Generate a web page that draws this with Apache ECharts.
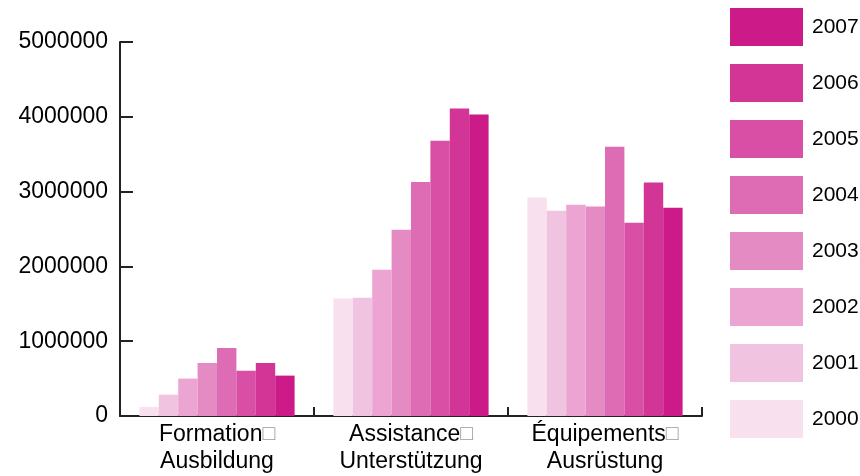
<!DOCTYPE html>
<html>
<head>
<meta charset="utf-8">
<script src="https://cdn.jsdelivr.net/npm/echarts@6/dist/echarts.min.js"></script>
<style>
  html, body { margin: 0; padding: 0; background: #fff; }
  #main { width: 860px; height: 476px; }
</style>
</head>
<body>
<div id="main"></div>
<script>
const categories = ['Formation□\nAusbildung', 'Assistance□\nUnterstützung', 'Équipements□\nAusrüstung'];
const years = ['2000', '2001', '2002', '2003', '2004', '2005', '2006', '2007'];
const colors = ['#f8e0ee', '#f0c3e0', '#eca5d2', '#e48bc3', '#de6cb4', '#d84fa5', '#d23595', '#cc1a89'];
// one array per year: [Formation, Assistance, Équipements]
const v2000 = [120000, 1570000, 2920000];
const v2001 = [285000, 1580000, 2745000];
const v2002 = [500000, 1955000, 2825000];
const v2003 = [710000, 2490000, 2800000];
const v2004 = [910000, 3130000, 3600000];
const v2005 = [605000, 3680000, 2585000];
const v2006 = [710000, 4110000, 3120000];
const v2007 = [540000, 4030000, 2785000];
const values = [v2000, v2001, v2002, v2003, v2004, v2005, v2006, v2007];
const yTicks = [0, 1000000, 2000000, 3000000, 4000000, 5000000];

const chart = echarts.init(document.getElementById('main'));

const series = years.map((y, i) => ({
  name: y,
  type: 'bar',
  data: values[i],
  barGap: '0%',
  barCategoryGap: '20%',
  itemStyle: { color: colors[i] },
  emphasis: { disabled: true },
}));

chart.setOption({
  animation: false,
  textStyle: { fontFamily: 'Liberation Sans, Arial, sans-serif' },
  grid: { left: 120, right: 158, top: 42, bottom: 60, outerBoundsMode: 'none' },
  legend: {
    orient: 'vertical',
    left: 730,
    top: 8,
    padding: 0,
    itemWidth: 73,
    itemHeight: 38,
    itemGap: 18,
    icon: 'rect',
    data: years.slice().reverse(),
    textStyle: { fontSize: 21, color: '#000', padding: [2, 0, 0, 4] },
  },
  xAxis: {
    type: 'category',
    data: categories,
    axisLine: { lineStyle: { color: '#222', width: 2 } },
    axisTick: { show: true, interval: 0, inside: true, length: 9, lineStyle: { color: '#222', width: 2 } },
    axisLabel: {
      interval: 0,
      color: '#000',
      fontSize: 23,
      lineHeight: 27,
      margin: 5,
      formatter: (s) => s.replace('□', '{box|□}'),
      rich: { box: { color: '#999', fontSize: 21, lineHeight: 27 } },
    },
  },
  yAxis: {
    type: 'value',
    min: yTicks[0],
    max: yTicks[yTicks.length - 1],
    interval: yTicks[1] - yTicks[0],
    splitLine: { show: false },
    axisLine: { show: true, lineStyle: { color: '#222', width: 2 } },
    axisTick: { show: true, inside: true, length: 13, lineStyle: { color: '#222', width: 2 } },
    axisLabel: { color: '#000', fontSize: 23, margin: 12, formatter: (v) => String(v) },
  },
  series: series,
});
</script>
</body>
</html>
